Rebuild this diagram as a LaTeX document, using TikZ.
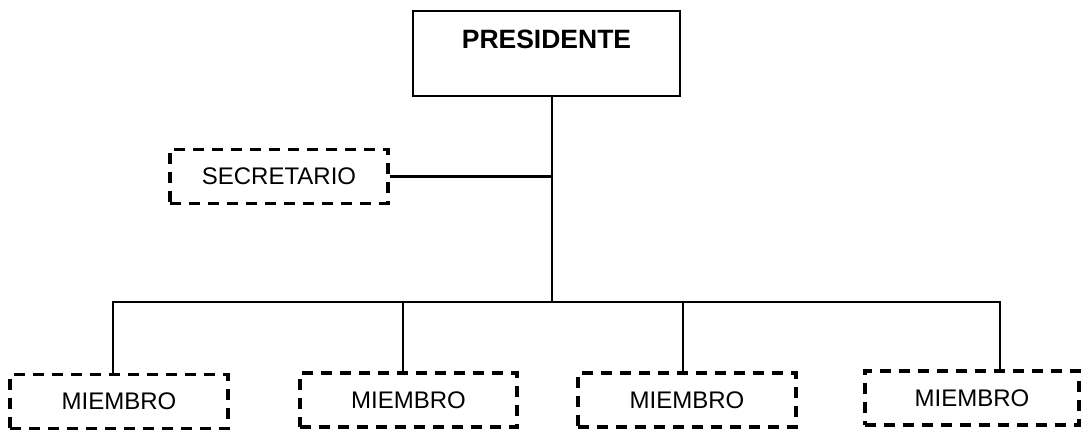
\documentclass[tikz,border=0pt]{standalone}
\usepackage{fontspec}
\setmainfont{Liberation Sans}
\begin{document}
\begin{tikzpicture}[x=1pt,y=-1pt,
  solidline/.style={line width=2.4pt, black},
  dashbox/.style={draw, line width=3.2pt, dash pattern=on 11pt off 8pt,
    minimum height=54pt, inner sep=0pt, font=\fontsize{24}{28}\selectfont},
  presbox/.style={draw, line width=2.4pt, inner sep=0pt, text height=37pt, text depth=48pt,
    minimum width=267pt, font=\bfseries\fontsize{26.5}{31}\selectfont}]
\useasboundingbox (0,0) rectangle (1081,430);
\node[presbox, anchor=north] (pres) at (546.5,10) {PRESIDENTE};
\node[dashbox, minimum width=218pt] (sec) at (279,176.5) {SECRETARIO};
\node[dashbox, minimum width=218pt] (m1) at (119,401.5) {MIEMBRO};
\node[dashbox, minimum width=217pt] (m2) at (408.5,400) {MIEMBRO};
\node[dashbox, minimum width=218pt] (m3) at (687,400) {MIEMBRO};
\node[dashbox, minimum width=214pt] (m4) at (972,398) {MIEMBRO};
\coordinate (j) at (552,302);
\coordinate (a1) at ([xshift=-6pt]m1.north);
\coordinate (a2) at ([xshift=-5.5pt]m2.north);
\coordinate (a3) at ([xshift=-4pt]m3.north);
\coordinate (a4) at ([xshift=28pt]m4.north);
\draw[solidline] (j |- pres.south) -- (j);
\draw[solidline] (sec.east) -- (sec.east -| j);
\draw[solidline] (a1) -- (a1 |- j) -- (a4 |- j) -- (a4);
\draw[solidline] (a2) -- (a2 |- j);
\draw[solidline] (a3) -- (a3 |- j);
\end{tikzpicture}
\end{document}
